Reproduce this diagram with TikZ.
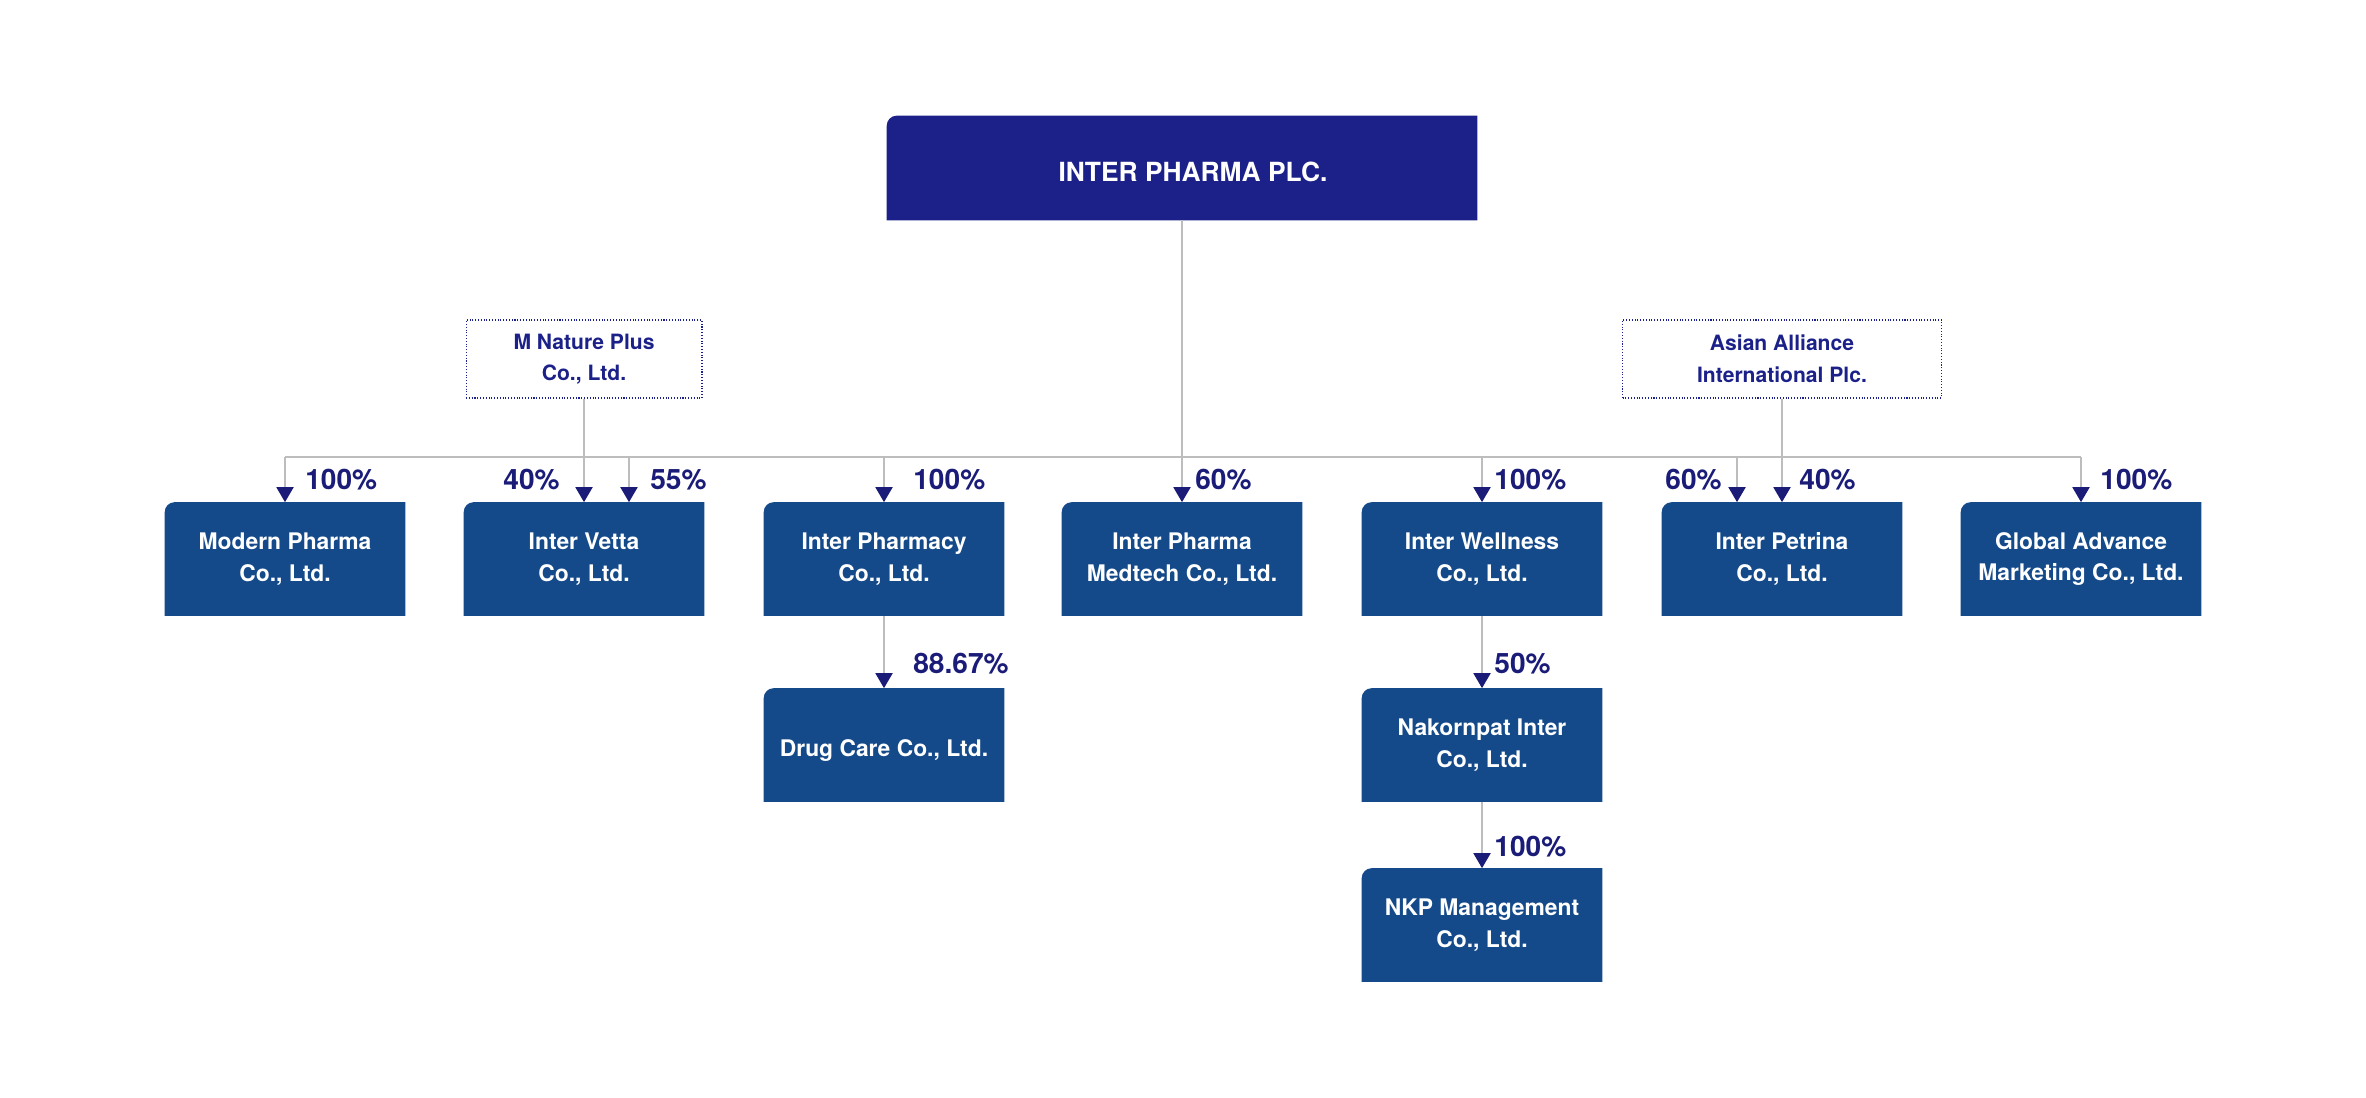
\documentclass[tikz,border=0pt]{standalone}
\usepackage{fontspec}
\setmainfont{TeX Gyre Heros}
\usetikzlibrary{arrows.meta,positioning,backgrounds}
\definecolor{topnavy}{HTML}{1B2189}
\definecolor{boxblue}{HTML}{154A8A}
\definecolor{pctnavy}{HTML}{1A1C78}
\definecolor{linegray}{HTML}{BDBDBD}
\tikzset{
  company/.style={minimum width=4.8cm,minimum height=2.26cm,inner sep=0pt,align=center,text=white,font=\bfseries\fontsize{13}{18}\selectfont,execute at begin node={\rule{0pt}{16pt}}},
  holder/.style={draw=topnavy,densely dotted,line width=0.6pt,minimum height=1.56cm,inner sep=0pt,align=center,text=topnavy,font=\bfseries\fontsize{12}{18}\selectfont,execute at begin node={\rule{0pt}{15pt}}},
  pct/.style={text=pctnavy,font=\bfseries\fontsize{16}{19}\selectfont,inner sep=0pt},
  link/.style={draw=linegray,line width=1.1pt,-{Triangle[width=0.34cm,length=0.3cm,color=pctnavy]}},
  bar/.style={draw=linegray,line width=1.1pt},
}
\begin{document}
\begin{tikzpicture}[x={(0.02cm,0)},y={(0,-0.02cm)}]
\useasboundingbox (0,0) rectangle (2366,1098);
\node[minimum width=11.8cm,minimum height=2.08cm,inner sep=0pt,text height=15.5pt,text depth=0pt,text=white,font=\bfseries\fontsize{15}{18}\selectfont] (ipp) at (1182,168) {\hspace*{0.44cm}INTER PHARMA PLC.};
% shareholders outside the group
\node[holder,minimum width=4.72cm] (mnp) at (584,359) {M Nature Plus\\Co., Ltd.};
\node[holder,minimum width=6.38cm] (aai) at (1782,359) {Asian Alliance\\International Plc.};
% subsidiaries
\foreach \n/\x/\txt in {modern/285/{Modern Pharma\\Co., Ltd.},vetta/584/{Inter Vetta\\Co., Ltd.},pharmacy/884/{Inter Pharmacy\\Co., Ltd.},medtech/1182/{Inter Pharma\\Medtech Co., Ltd.},wellness/1482/{Inter Wellness\\Co., Ltd.},petrina/1782/{Inter Petrina\\Co., Ltd.},global/2081/{Global Advance\\Marketing Co., Ltd.}}
  {\node[company] (\n) at (\x,559) {\txt};}
\node[company] (drugcare) at (884,745) {Drug Care Co., Ltd.};
\node[company] (nakornpat) at (1482,745) {Nakornpat Inter\\Co., Ltd.};
\node[company] (nkp) at (1482,925) {NKP Management\\Co., Ltd.};
\begin{scope}[on background layer]
\foreach \n/\c in {ipp/topnavy,modern/boxblue,vetta/boxblue,pharmacy/boxblue,medtech/boxblue,wellness/boxblue,petrina/boxblue,global/boxblue,drugcare/boxblue,nakornpat/boxblue,nkp/boxblue}
  {\fill[\c] (\n.south west) -- ([yshift=-0.2cm]\n.north west) arc[start angle=180,end angle=90,radius=0.2cm] -- (\n.north east) -- (\n.south east) -- cycle;}
\end{scope}
% connectors
\coordinate (bus) at (1182,457);
\coordinate (vettaR) at ([xshift=0.9cm]vetta.north);
\coordinate (petrinaL) at ([xshift=-0.9cm]petrina.north);
\draw[bar] (modern.north |- bus) -- (global.north |- bus);
\draw[link] (ipp) -- (medtech);
\foreach \n in {modern,pharmacy,wellness,global} {\draw[link] (\n.north |- bus) -- (\n.north);}
\draw[link] (vettaR |- bus) -- (vettaR);
\draw[link] (petrinaL |- bus) -- (petrinaL);
\draw[link] (mnp) -- (vetta);
\draw[link] (aai) -- (petrina);
\draw[link] (pharmacy) -- (drugcare);
\draw[link] (wellness) -- (nakornpat);
\draw[link] (nakornpat) -- (nkp);
% shareholdings
\foreach \n/\x/\y/\a/\l in {pmodern/305/480/west/100\%,pvettaL/560/480/east/40\%,pvettaR/650/480/west/55\%,ppharmacy/913/480/west/100\%,pmedtech/1195/480/west/60\%,pwellness/1494/480/west/100\%,ppetrinaL/1722/480/east/60\%,ppetrinaR/1799/480/west/40\%,pglobal/2100/480/west/100\%,pdrugcare/913/664/west/88.67\%,pnakornpat/1494/664/west/50\%,pnkp/1494/847/west/100\%}
  {\node[pct,anchor=\a] (\n) at (\x,\y) {\l};}
\end{tikzpicture}
\end{document}
